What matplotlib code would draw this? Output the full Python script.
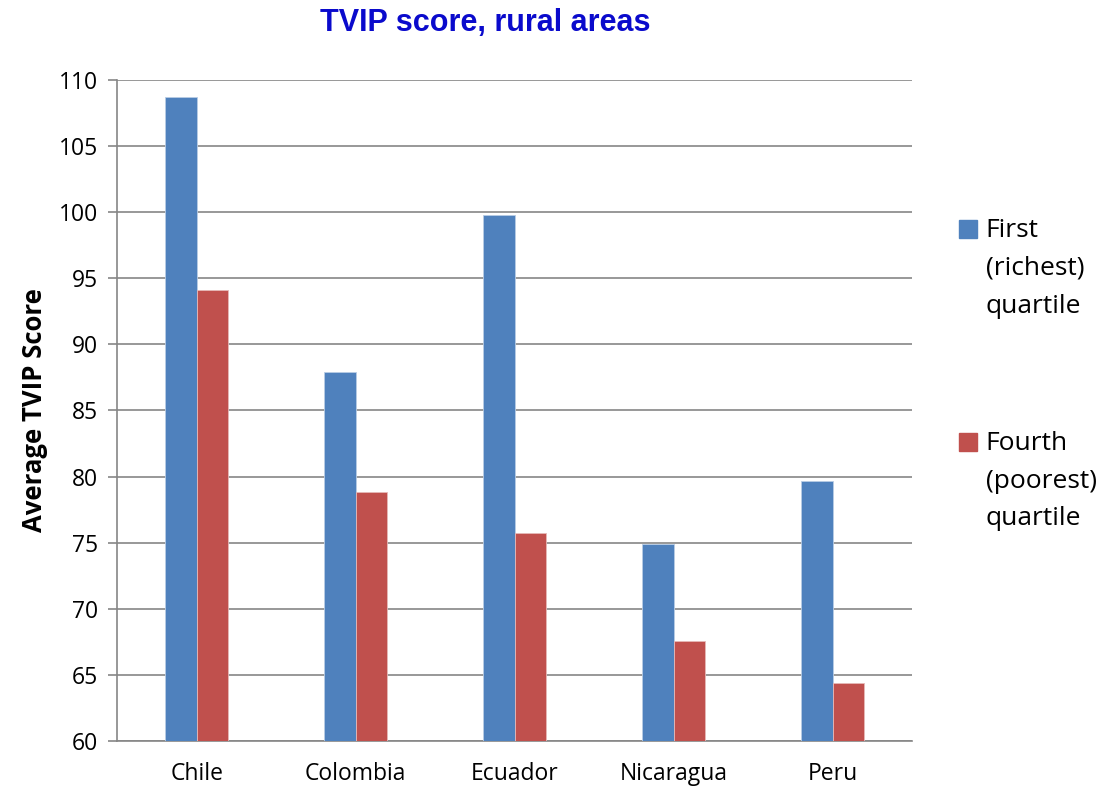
import matplotlib.pyplot as plt
from matplotlib.patches import Rectangle
import numpy as np

# Data
countries = ["Chile", "Colombia", "Ecuador", "Nicaragua", "Peru"]
first_quartile = [108.7, 87.9, 99.8, 74.9, 79.7]
fourth_quartile = [94.1, 78.8, 75.7, 67.6, 64.4]
labels = ["First\n(richest)\nquartile", "Fourth\n(poorest)\nquartile"]
colors = ["#4F81BD", "#C0504D"]
yticks = [60, 65, 70, 75, 80, 85, 90, 95, 100, 105, 110]

# Figure
fig = plt.figure(figsize=(11.05, 7.88), dpi=100)
ax = fig.add_axes([0.106, 0.0596, 0.7195, 0.839])

x = np.arange(len(countries))
width = 0.2
ax.bar(x - width / 2, first_quartile, width, color=colors[0],
       edgecolor="#B9CDE5", linewidth=0.6, zorder=3)
ax.bar(x + width / 2, fourth_quartile, width, color=colors[1],
       edgecolor="#E6B9B8", linewidth=0.6, zorder=3)

ax.set_ylim(60, 110)
ax.set_xlim(-0.5, len(countries) - 0.5)
ax.set_yticks(yticks)
ax.set_xticks(x)
ax.set_xticklabels(countries, family="Open Sans", fontsize=16.5)
for lbl in ax.get_yticklabels():
    lbl.set_family("Open Sans")
    lbl.set_fontsize(16.5)

# Grid and spines
ax.grid(axis="y", color="#868686", linewidth=1.2, zorder=0)
for side in ["top", "right"]:
    ax.spines[side].set_visible(False)
for side in ["left", "bottom"]:
    ax.spines[side].set_color("#868686")
    ax.spines[side].set_linewidth(1.2)
ax.tick_params(axis="y", length=6.5, width=1.2, color="#868686", pad=7)
ax.tick_params(axis="x", length=0, pad=15)

# Title and label
fig.text(0.439, 0.971, "TVIP score, rural areas", ha="center", va="center",
         family="Liberation Sans", fontweight="bold", fontsize=22,
         color="#0A0ACC")
ax.set_ylabel("Average TVIP Score", family="Open Sans",
              fontweight="bold", fontsize=18.5, labelpad=8)

# Legend (square markers next to the first line of each label)
legend_y = [0.709, 0.439]
for label, color, ly in zip(labels, colors, legend_y):
    fig.add_artist(Rectangle((0.868, ly - 0.0115), 0.0163, 0.0228,
                             transform=fig.transFigure, color=color))
    fig.text(0.892, ly + 0.0145, label, ha="left", va="top",
             family="Open Sans", fontsize=19, linespacing=1.68)

plt.savefig("out.png", dpi=100)
